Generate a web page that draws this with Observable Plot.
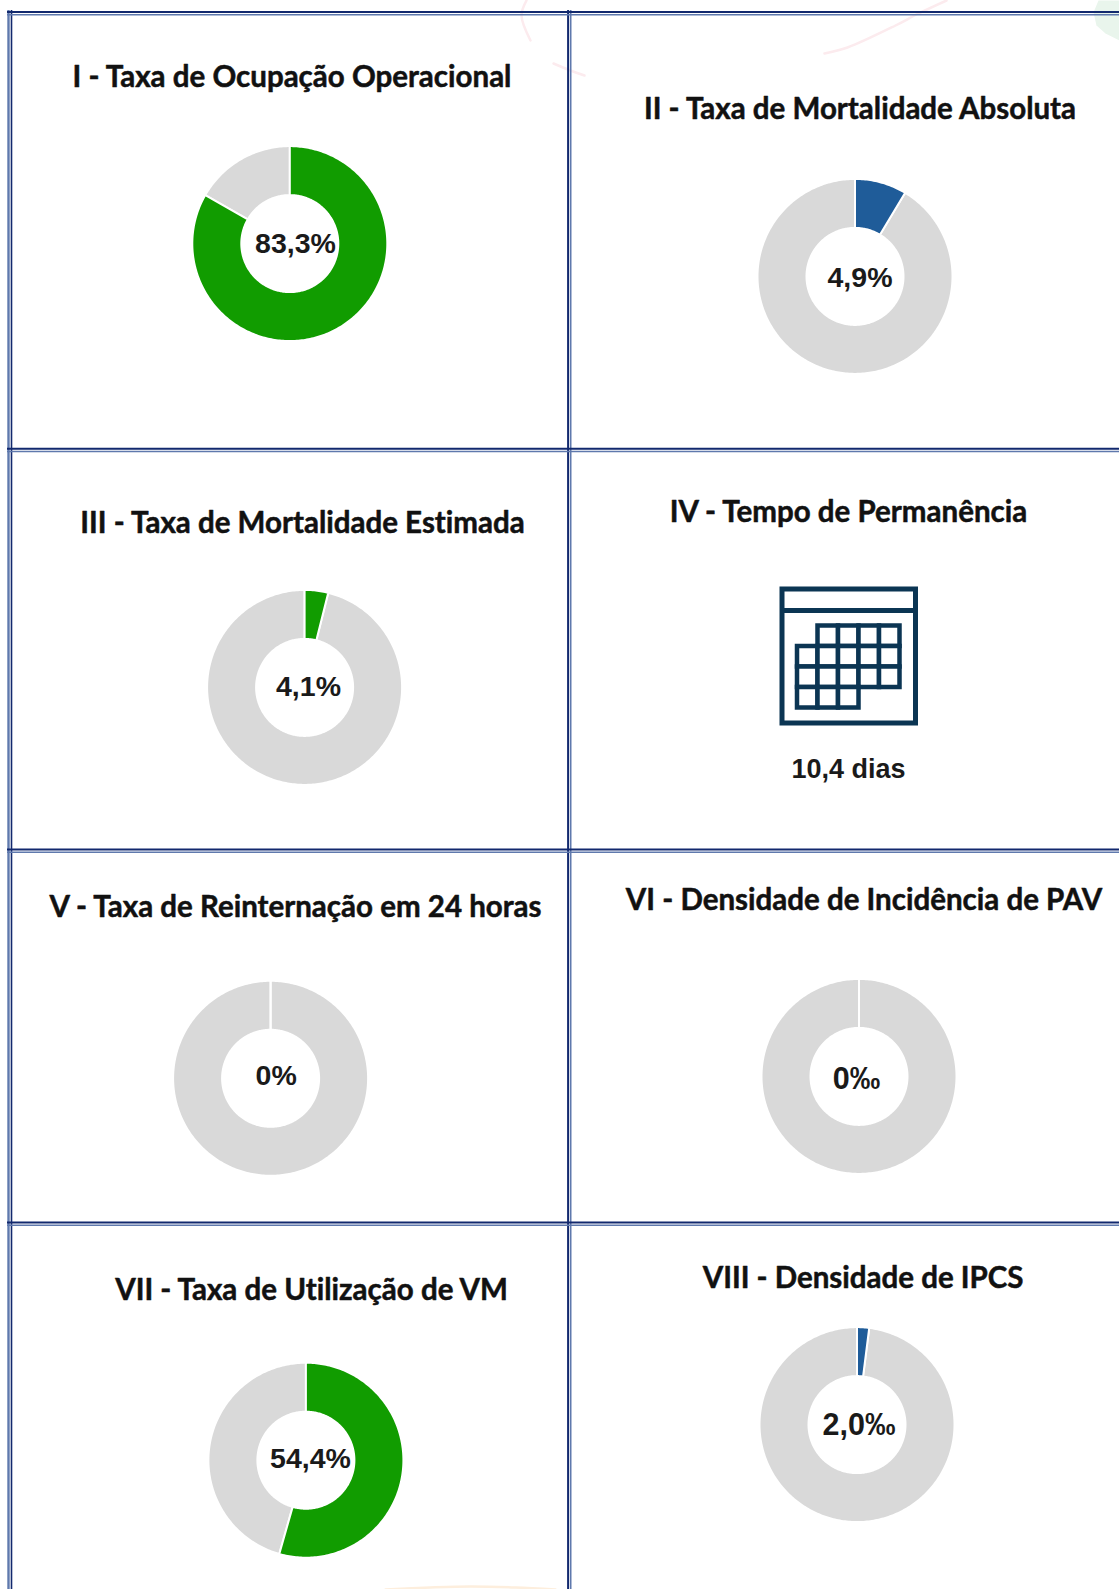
<!DOCTYPE html>
<html lang="pt-BR">
<head>
<meta charset="utf-8">
<title>Indicadores</title>
<script src="https://cdn.jsdelivr.net/npm/d3@7"></script>
<script src="https://cdn.jsdelivr.net/npm/@observablehq/plot@0.6"></script>
<style>
html,body{margin:0;padding:0;background:#fff;overflow:hidden}
svg{display:block}
svg text{font-variant-ligatures:none}
</style>
</head>
<body>
<div id="chart"></div>
<script>
// --- Data ---
const titles = [
  "I - Taxa de Ocupação Operacional",
  "II - Taxa de Mortalidade Absoluta",
  "III - Taxa de Mortalidade Estimada",
  "IV - Tempo de Permanência",
  "V - Taxa de Reinternação em 24 horas",
  "VI - Densidade de Incidência de PAV",
  "VII - Taxa de Utilização de VM",
  "VIII - Densidade de IPCS"
];
const valueLabels = ["83,3%", "4,9%", "4,1%", "10,4 dias", "0%", "0‰", "54,4%", "2,0‰"];
// share of the ring filled, in percent (null: panel IV has an icon, not a ring)
const ringShares = [83.3, 8.6, 3.9, null, 0, 0, 54.4, 2.0];
const ringStatus = ["meta", "alerta", "meta", null, "meta", "alerta", "meta", "alerta"];
// calendar icon: first and last column of each row of days
const calendarRowStart = [1, 0, 0, 0];
const calendarRowEnd   = [4, 4, 4, 2];

// --- Layout ---
const W = 1119, H = 1589;
const titleX = [291.5, 859.5, 302, 848, 295, 863.5, 311, 862.6];
const titleY = [86, 118.5, 532, 521.5, 916, 909, 1299, 1287];
const centerX = [289.8, 855, 304.6, null, 270.6, 859, 305.9, 857];
const centerY = [243.6, 276.4, 687.4, null, 1078.3, 1076.4, 1460.2, 1424.6];
const labelX = [295, 859.5, 308, 848, 275.7, 856, 310, 858.5];
const labelY = [243.5, 277, 686, 769, 1075.5, 1078.5, 1458.6, 1425];
const labelSize = [28.5, 28.5, 28.5, 27, 28.5, 30.5, 28.5, 30.5];
const R = 97.5, r = 48.5;

const statusDomain = ["meta", "alerta", "resto"];
const statusRange = ["#119c00", "#1f5c99", "#d9d9d9"];

// --- Ring geometry built from the shares ---
function wedge(panel, part, i, a0, a1) {
  const n = Math.max(1, Math.ceil(Math.abs(a1 - a0)));
  return d3.range(n + 1).map(k => {
    const a = (a0 + (a1 - a0) * k / n) * Math.PI / 180;
    return {
      key: panel + part, part,
      xi: centerX[i] + r * Math.sin(a), yi: centerY[i] - r * Math.cos(a),
      xo: centerX[i] + R * Math.sin(a), yo: centerY[i] - R * Math.cos(a)
    };
  });
}
const ringRows = ringShares.flatMap((s, i) => {
  if (s === null) return [];
  const end = s * 3.6;
  return [...wedge(i, "resto", i, end, 360), ...wedge(i, ringStatus[i], i, 0, end)];
});

// --- Border lines of the table ---
const gridX = [{v: 8, c: "light", w: 2.4}, {v: 11, c: "dark", w: 1.6}, {v: 567.6, c: "dark", w: 2}, {v: 570.2, c: "light", w: 1.6}];
const gridY = [
  {v: 11.5, c: "dark", w: 2}, {v: 14.3, c: "light", w: 1.6},
  {v: 448.3, c: "dark", w: 2}, {v: 451, c: "light", w: 1.6},
  {v: 849, c: "dark", w: 2}, {v: 851.7, c: "light", w: 1.6},
  {v: 1222, c: "dark", w: 2}, {v: 1224.7, c: "light", w: 1.6}
];
const ruleColor = {dark: "#12296e", light: "#5f79ad"};

// --- Faint page decorations ---
const blob = [[1098,0],[1093,12],[1096,25],[1105,33],[1119,40],[1119,0]].map(([x,y]) => ({x,y}));
const swooshes = [
  {k:"a", c:"#fcebee", p:[[526,0],[521,15],[530,40]]},
  {k:"b", c:"#fcebee", p:[[553,63],[570,70],[584,75]]},
  {k:"c", c:"#fcebee", p:[[824,53],[847,47],[895,25],[918,13],[946,0]]},
  {k:"d", c:"#fdeedd", p:[[385,1589],[430,1587],[470,1586],[515,1587],[555,1589]]}
].flatMap(s => s.p.map(([x,y]) => ({k:s.k, c:s.c, x, y})));

// --- Calendar icon ---
const calX = 797, calY = 625.5, cell = 20.5;
const calendarCells = calendarRowStart.flatMap((c0, row) =>
  d3.range(c0, calendarRowEnd[row] + 1).map(col => ({
    x1: calX + col * cell, x2: calX + (col + 1) * cell,
    y1: calY + row * cell, y2: calY + (row + 1) * cell
  })));
const calendarFrame = [{x1: 782, x2: 915.5, y1: 589, y2: 723}];
const calendarHeader = [{x1: 782, x2: 915.5, y: 610}];
const iconColor = "#0b3553";

const titleRows = titles.map((t, i) => ({t, x: titleX[i], y: titleY[i]}));
const labelRows = valueLabels.map((t, i) => ({t, x: labelX[i], y: labelY[i], s: labelSize[i]}));

const chart = Plot.plot({
  width: W, height: H,
  margin: 0,
  x: {domain: [0, W], range: [0, W], axis: null},
  y: {domain: [0, H], range: [0, H], axis: null},
  color: {domain: statusDomain, range: statusRange},
  style: {background: "transparent"},
  marks: [
    Plot.line(blob, {x: "x", y: "y", fill: "#e9f5ec", stroke: "none"}),
    Plot.line(swooshes, {x: "x", y: "y", z: "k", stroke: "c", strokeWidth: 2.5, curve: "catmull-rom"}),
    Plot.ruleX(gridX, {x: "v", y1: 10, y2: H, stroke: d => ruleColor[d.c], strokeWidth: "w"}),
    Plot.ruleY(gridY, {y: "v", x1: 7, x2: W, stroke: d => ruleColor[d.c], strokeWidth: "w"}),
    Plot.area(ringRows, {
      x1: "xi", y1: "yi", x2: "xo", y2: "yo", z: "key",
      fill: "part", stroke: "white", strokeWidth: 2, curve: "linear"
    }),
    Plot.rect(calendarFrame, {x1: "x1", x2: "x2", y1: "y1", y2: "y2", fill: "none", stroke: iconColor, strokeWidth: 5}),
    Plot.ruleY(calendarHeader, {y: "y", x1: "x1", x2: "x2", stroke: iconColor, strokeWidth: 5}),
    Plot.rect(calendarCells, {x1: "x1", x2: "x2", y1: "y1", y2: "y2", fill: "white", stroke: iconColor, strokeWidth: 4.5}),
    Plot.text(titleRows, {
      x: "x", y: "y", text: "t", lineAnchor: "bottom", textAnchor: "middle",
      fontFamily: "Lato", fontWeight: 700, fontSize: 29.5, fill: "#111", stroke: "#111", strokeWidth: 0.5
    }),
    Plot.text(labelRows, {
      x: "x", y: "y", text: "t", textAnchor: "middle", lineAnchor: "middle",
      fontFamily: "Liberation Sans", fontWeight: 700, fontSize: "s", fill: "#1a1a1a"
    })
  ]
});
document.getElementById("chart").append(chart);
</script>
</body>
</html>
